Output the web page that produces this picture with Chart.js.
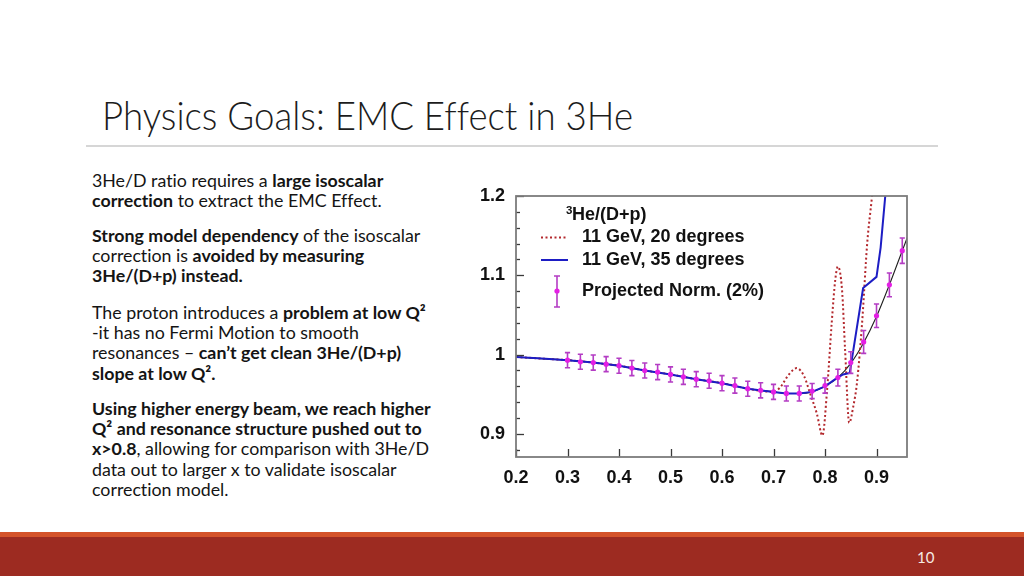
<!DOCTYPE html>
<html>
<head>
<meta charset="utf-8">
<script src="https://cdn.jsdelivr.net/npm/chart.js@4.4.0/dist/chart.umd.min.js"></script>
<style>
html, body { margin: 0; padding: 0; }
body { width: 1024px; height: 576px; position: relative; overflow: hidden; background: #fff; font-family: Lato, "Open Sans", sans-serif; font-variant-ligatures: none; }
#title { position: absolute; left: 102px; top: 96px; font-size: 38.5px; line-height: 1; font-weight: 300; color: #1c1c1c; white-space: nowrap; transform-origin: left top; }
#rule { position: absolute; left: 86px; top: 145px; width: 852px; height: 1.5px; background: #d6d6d6; }
.p { position: absolute; left: 92px; font-size: 17.8px; line-height: 20.2px; color: #141414; white-space: nowrap; }
.p b { font-weight: 700; }
#chartBox { position: absolute; left: 460px; top: 186px; width: 460px; height: 304px; }
#stripe { position: absolute; left: 0; top: 532px; width: 1024px; height: 5px; background: #d4532a; }
#band { position: absolute; left: 0; top: 537px; width: 1024px; height: 39px; background: #9d2b21; }
#pageNo { position: absolute; left: 917px; top: 550px; font-size: 15px; line-height: 1; color: #f6ebe4; }
</style>
</head>
<body>
<div id="title">Physics Goals: EMC Effect in 3He</div>
<div id="rule"></div>

<div class="p" style="top:170px">3He/D ratio requires a <b>large isoscalar</b><br><b>correction</b> to extract the EMC Effect.</div>
<div class="p" style="top:225px"><b>Strong model dependency</b> of the isoscalar<br>correction is <b>avoided by measuring</b><br><b>3He/(D+p) instead.</b></div>
<div class="p" style="top:302px">The proton introduces a <b>problem at low Q²</b><br>-it has no Fermi Motion to smooth<br>resonances – <b>can’t get clean 3He/(D+p)</b><br><b>slope at low Q².</b></div>
<div class="p" style="top:398px"><b>Using higher energy beam, we reach higher</b><br><b>Q² and resonance structure pushed out to</b><br><b>x&gt;0.8</b>, allowing for comparison with 3He/D<br>data out to larger x to validate isoscalar<br>correction model.</div>

<div id="chartBox"><canvas id="emcChart" width="460" height="304"></canvas></div>

<div id="stripe"></div>
<div id="band"></div>
<div id="pageNo">10</div>

<script>
// smooth model curve (black)
const modelX = [0.2, 0.25, 0.3, 0.35, 0.4, 0.45, 0.5, 0.55, 0.6, 0.65, 0.7, 0.725, 0.75, 0.775, 0.8, 0.825, 0.85, 0.875, 0.9, 0.925, 0.95, 0.96];
const modelY = [0.997, 0.995, 0.993, 0.990, 0.986, 0.980, 0.975, 0.969, 0.964, 0.957, 0.953, 0.951, 0.951, 0.953, 0.960, 0.971, 0.989, 1.015, 1.048, 1.088, 1.131, 1.148];

// 11 GeV, 35 degrees (blue)
const blueX = [0.2, 0.25, 0.3, 0.35, 0.4, 0.45, 0.5, 0.55, 0.6, 0.65, 0.7, 0.725, 0.75, 0.775, 0.8, 0.82, 0.835, 0.848, 0.874, 0.9, 0.908, 0.917, 0.925];
const blueY = [0.997, 0.995, 0.993, 0.990, 0.986, 0.980, 0.975, 0.969, 0.964, 0.957, 0.953, 0.951, 0.951, 0.953, 0.960, 0.969, 0.975, 0.977, 1.084, 1.098, 1.135, 1.200, 1.260];

// 11 GeV, 20 degrees (red dotted)
const redX = [0.2, 0.25, 0.3, 0.35, 0.4, 0.45, 0.5, 0.55, 0.6, 0.65, 0.7, 0.712, 0.73, 0.745, 0.76, 0.771, 0.784, 0.795, 0.804, 0.813, 0.82, 0.825, 0.833, 0.839, 0.847, 0.855, 0.862, 0.872, 0.882, 0.891, 0.897];
const redY = [0.997, 0.995, 0.993, 0.990, 0.986, 0.980, 0.975, 0.969, 0.964, 0.957, 0.953, 0.958, 0.975, 0.983, 0.972, 0.951, 0.926, 0.898, 0.955, 1.040, 1.095, 1.111, 1.082, 1.006, 0.914, 0.935, 0.964, 1.040, 1.141, 1.198, 1.240];

// projected points with errors
const ptsX = [0.3, 0.325, 0.35, 0.375, 0.4, 0.425, 0.45, 0.475, 0.5, 0.525, 0.55, 0.575, 0.6, 0.625, 0.65, 0.675, 0.7, 0.725, 0.75, 0.775, 0.8, 0.825, 0.85, 0.875, 0.9, 0.925, 0.95];
const ptsY = [0.993, 0.991, 0.990, 0.988, 0.986, 0.983, 0.980, 0.978, 0.975, 0.972, 0.969, 0.967, 0.964, 0.961, 0.957, 0.955, 0.953, 0.951, 0.951, 0.954, 0.961, 0.971, 0.990, 1.016, 1.049, 1.088, 1.131];
const ptsErr = [0.0095, 0.0095, 0.0095, 0.0095, 0.0095, 0.0095, 0.0095, 0.0095, 0.0095, 0.0095, 0.0095, 0.0095, 0.0095, 0.0095, 0.0095, 0.0095, 0.0095, 0.0095, 0.0095, 0.0095, 0.0095, 0.0105, 0.0137, 0.0145, 0.0148, 0.015, 0.016];

// axis ticks
const xTicks = [0.2, 0.3, 0.4, 0.5, 0.6, 0.7, 0.8, 0.9];
const xTickLabels = ['0.2', '0.3', '0.4', '0.5', '0.6', '0.7', '0.8', '0.9'];
const yMajor = [0.9, 1.0, 1.1, 1.2];
const yTickLabels = ['0.9', '1', '1.1', '1.2'];
const yMinorStep = 0.02;

const legendTitle = 'He/(D+p)';
const legendNames = ['11 GeV, 20 degrees', '11 GeV, 35 degrees', 'Projected Norm. (2%)'];

const RED = '#b3282d', BLUE = '#1d1dc4', BAR = '#b43cc4', DOT = '#e41fe4';
const tickFont = { family: '"Liberation Sans", Arial, sans-serif', size: 18, weight: 'bold' };

function pairs(xs, ys) { return xs.map((x, i) => ({ x: x, y: ys[i] })); }
function near(a, b) { return Math.abs(a - b) < 1e-6; }

// fit the title width like the slide
(function () {
    const t = document.getElementById('title');
    const w = t.getBoundingClientRect().width;
    t.style.transform = 'scaleX(' + (531 / w) + ')';
})();

const errorBars = {
    id: 'errorBars',
    beforeDatasetDraw(chart, args) {
        if (args.index !== 3) return;
        const { ctx, scales: { x, y } } = chart;
        ctx.save();
        ctx.strokeStyle = BAR;
        ctx.lineWidth = 1.6;
        ptsX.forEach((v, i) => {
            const px = x.getPixelForValue(v);
            const y1 = y.getPixelForValue(ptsY[i] - ptsErr[i]);
            const y2 = y.getPixelForValue(ptsY[i] + ptsErr[i]);
            ctx.beginPath();
            ctx.moveTo(px, y1); ctx.lineTo(px, y2);
            ctx.moveTo(px - 2.6, y1); ctx.lineTo(px + 2.6, y1);
            ctx.moveTo(px - 2.6, y2); ctx.lineTo(px + 2.6, y2);
            ctx.stroke();
        });
        ctx.restore();
    }
};

const frameTicks = {
    id: 'frameTicks',
    afterDatasetsDraw(chart) {
        const { ctx, chartArea: a, scales: { x, y } } = chart;
        ctx.save();
        ctx.strokeStyle = '#3a3a3a';
        ctx.lineWidth = 1.3;
        y.ticks.forEach(t => {
            const py = Math.round(y.getPixelForValue(t.value)) + 0.5;
            const major = yMajor.some(m => near(m, t.value));
            ctx.beginPath();
            ctx.moveTo(a.left, py); ctx.lineTo(a.left + (major ? 8 : 4), py);
            ctx.stroke();
        });
        x.ticks.forEach(t => {
            const px = Math.round(x.getPixelForValue(t.value)) + 0.5;
            ctx.beginPath();
            ctx.moveTo(px, a.bottom); ctx.lineTo(px, a.bottom - 8);
            ctx.stroke();
        });
        ctx.strokeStyle = '#7c7c7c';
        ctx.lineWidth = 1.8;
        ctx.strokeRect(a.left, a.top, a.right - a.left, a.bottom - a.top);
        ctx.restore();
    }
};

const innerLegend = {
    id: 'innerLegend',
    afterDraw(chart) {
        const ctx = chart.ctx;
        ctx.save();
        ctx.fillStyle = '#111';
        ctx.textBaseline = 'alphabetic';
        ctx.font = 'bold 11.5px "Liberation Sans", Arial, sans-serif';
        ctx.fillText('3', 106, 28);
        ctx.font = 'bold 18px "Liberation Sans", Arial, sans-serif';
        ctx.fillText(legendTitle, 112, 34);

        ctx.textBaseline = 'middle';
        const rows = [51.5, 74, 105.5];
        legendNames.forEach((name, i) => ctx.fillText(name, 122, rows[i]));

        ctx.lineWidth = 2;
        ctx.strokeStyle = RED;
        ctx.setLineDash([2, 2.5]);
        ctx.beginPath(); ctx.moveTo(81, rows[0]); ctx.lineTo(108, rows[0]); ctx.stroke();
        ctx.setLineDash([]);
        ctx.strokeStyle = BLUE;
        ctx.beginPath(); ctx.moveTo(81, rows[1]); ctx.lineTo(108, rows[1]); ctx.stroke();

        ctx.strokeStyle = BAR;
        ctx.lineWidth = 1.6;
        ctx.beginPath();
        ctx.moveTo(97, 90); ctx.lineTo(97, 121);
        ctx.moveTo(94, 90); ctx.lineTo(100, 90);
        ctx.moveTo(94, 121); ctx.lineTo(100, 121);
        ctx.stroke();
        ctx.fillStyle = DOT;
        ctx.beginPath(); ctx.arc(97, 105, 2.6, 0, Math.PI * 2); ctx.fill();
        ctx.restore();
    }
};

new Chart(document.getElementById('emcChart'), {
    type: 'line',
    data: {
        datasets: [{
            label: 'model',
            data: pairs(modelX, modelY),
            borderColor: '#1e1e1e',
            borderWidth: 1.1,
            pointRadius: 0,
            cubicInterpolationMode: 'monotone',
            clip: 0,
            order: 3
        }, {
            label: legendNames[0],
            data: pairs(redX, redY),
            borderColor: RED,
            borderWidth: 2,
            borderDash: [2, 2.5],
            pointRadius: 0,
            cubicInterpolationMode: 'monotone',
            clip: 0,
            order: 2
        }, {
            label: legendNames[1],
            data: pairs(blueX, blueY),
            borderColor: BLUE,
            borderWidth: 2,
            pointRadius: 0,
            tension: 0,
            clip: 0,
            order: 1
        }, {
            label: legendNames[2],
            data: pairs(ptsX, ptsY),
            showLine: false,
            pointRadius: 2.6,
            pointBorderWidth: 0,
            pointBackgroundColor: DOT,
            clip: 0,
            order: 0
        }]
    },
    options: {
        responsive: false,
        animation: false,
        layout: { padding: { top: 10, right: 13, left: 0, bottom: 0 } },
        scales: {
            x: {
                type: 'linear',
                min: 0.2,
                max: 0.9592,
                afterFit(scale) {
                    scale.height = 33;
                    scale.paddingLeft = 0;
                    scale.paddingRight = 0;
                },
                afterBuildTicks(scale) { scale.ticks = xTicks.map(v => ({ value: v })); },
                grid: { display: false, drawTicks: false },
                border: { display: false },
                ticks: {
                    padding: 10,
                    color: '#111',
                    font: tickFont,
                    maxRotation: 0,
                    autoSkip: false,
                    callback(v) {
                        const i = xTicks.findIndex(t => near(t, v));
                        return i >= 0 ? xTickLabels[i] : '';
                    }
                }
            },
            y: {
                min: 0.8709,
                max: 1.2,
                afterFit(scale) {
                    scale.width = 56;
                    scale.paddingTop = 0;
                    scale.paddingBottom = 0;
                },
                afterBuildTicks(scale) {
                    const t = [];
                    for (let v = 0.88; v <= 1.2 + 1e-9; v += yMinorStep) t.push({ value: +v.toFixed(2) });
                    scale.ticks = t;
                },
                grid: { display: false, drawTicks: false },
                border: { display: false },
                ticks: {
                    padding: 11,
                    color: '#111',
                    font: tickFont,
                    autoSkip: false,
                    callback(v) {
                        const i = yMajor.findIndex(t => near(t, v));
                        return i >= 0 ? yTickLabels[i] : '';
                    }
                }
            }
        },
        plugins: {
            legend: { display: false },
            tooltip: { enabled: false }
        }
    },
    plugins: [errorBars, frameTicks, innerLegend]
});
</script>
</body>
</html>
